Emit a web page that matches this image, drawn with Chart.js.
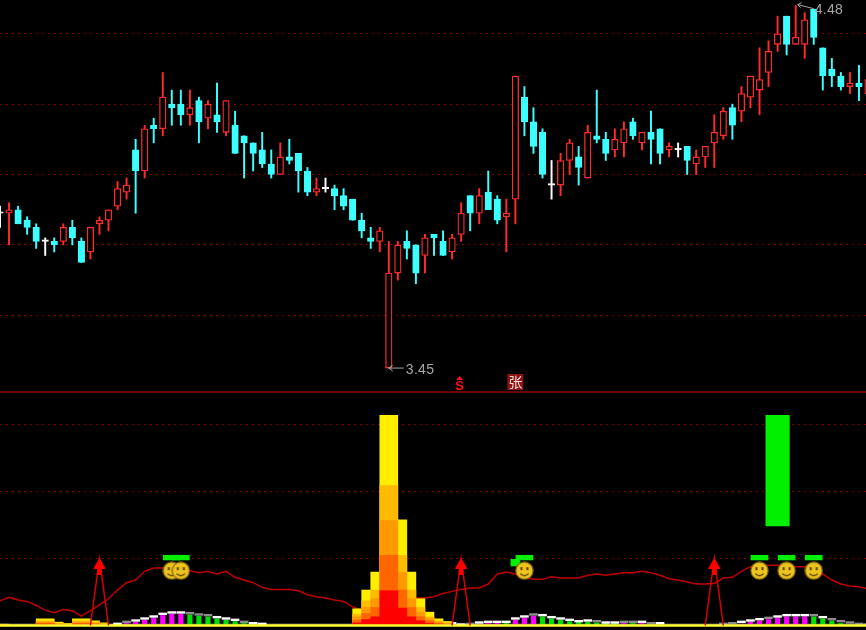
<!DOCTYPE html>
<html>
<head>
<meta charset="utf-8">
<title>K-line</title>
<style>
	html, body { margin: 0; background: #000; overflow: hidden; }
	canvas { display: block; }
</style>
<script src="https://cdn.jsdelivr.net/npm/chart.js@4"></script>
</head>
<body>
<canvas id="chart" width="868" height="630"></canvas>
<script>
const opens = [3.89,3.89,3.90,3.87,3.85,3.81,3.81,3.81,3.85,3.81,3.78,3.86,3.87,3.91,3.95,4.07,4.01,4.14,4.13,4.20,4.20,4.17,4.21,4.16,4.17,4.12,4.14,4.11,4.09,4.07,4.03,4.00,4.05,4.06,4.01,3.95,3.96,3.96,3.94,3.93,3.87,3.82,3.81,3.45,3.72,3.81,3.80,3.77,3.83,3.81,3.78,3.83,3.94,3.89,3.95,3.93,3.88,3.93,4.22,4.15,4.12,3.97,3.97,4.04,4.05,3.99,4.11,4.10,4.07,4.09,4.15,4.09,4.12,4.13,4.07,4.07,4.08,4.03,4.05,4.09,4.11,4.19,4.18,4.22,4.24,4.29,4.37,4.45,4.37,4.37,4.47,4.36,4.30,4.28,4.25,4.26,4.23];
const closes = [3.89,3.90,3.86,3.85,3.81,3.81,3.80,3.85,3.82,3.75,3.85,3.87,3.90,3.96,3.97,4.01,4.13,4.13,4.22,4.19,4.17,4.19,4.15,4.20,4.15,4.21,4.06,4.09,4.06,4.03,4.00,4.05,4.04,4.01,3.95,3.96,3.96,3.94,3.91,3.87,3.84,3.81,3.84,3.72,3.80,3.79,3.72,3.82,3.82,3.77,3.82,3.89,3.89,3.94,3.90,3.87,3.89,4.28,4.15,4.08,4.00,3.97,4.04,4.09,4.02,4.12,4.10,4.06,4.10,4.13,4.11,4.12,4.10,4.06,4.08,4.07,4.04,4.05,4.08,4.12,4.18,4.14,4.23,4.28,4.27,4.35,4.40,4.37,4.39,4.44,4.39,4.28,4.28,4.25,4.26,4.25,4.27];
const highs = [3.91,3.92,3.91,3.88,3.86,3.82,3.82,3.86,3.87,3.82,3.85,3.88,3.90,3.98,3.99,4.10,4.14,4.16,4.29,4.24,4.24,4.24,4.22,4.21,4.26,4.21,4.18,4.11,4.09,4.12,4.07,4.09,4.10,4.06,4.02,3.99,3.99,3.97,3.96,3.93,3.89,3.85,3.85,3.81,3.81,3.84,3.80,3.83,3.83,3.84,3.83,3.92,3.94,3.96,4.01,3.94,3.93,4.28,4.25,4.19,4.13,4.04,4.06,4.10,4.08,4.14,4.24,4.12,4.13,4.15,4.16,4.12,4.18,4.13,4.09,4.09,4.08,4.07,4.08,4.17,4.19,4.20,4.25,4.28,4.36,4.38,4.45,4.45,4.48,4.46,4.47,4.36,4.33,4.29,4.29,4.31,4.28];
const lows = [3.85,3.80,3.86,3.83,3.79,3.77,3.78,3.80,3.80,3.75,3.76,3.83,3.84,3.90,3.93,3.89,3.99,4.09,4.11,4.14,4.14,4.14,4.09,4.13,4.12,4.11,4.06,3.99,4.01,4.02,3.99,4.00,4.03,3.95,3.94,3.94,3.95,3.90,3.90,3.87,3.82,3.79,3.78,3.45,3.70,3.76,3.69,3.72,3.77,3.77,3.76,3.81,3.84,3.86,3.90,3.86,3.78,3.86,4.11,4.06,3.99,3.93,3.94,4.00,3.97,3.99,4.09,4.04,4.05,4.05,4.10,4.07,4.03,4.03,4.05,4.05,4.00,4.00,4.02,4.02,4.10,4.10,4.15,4.19,4.17,4.25,4.35,4.34,4.37,4.33,4.37,4.24,4.25,4.24,4.23,4.21,4.22];
const priceTicks = [3.6, 3.8, 4.0, 4.2, 4.4];

const lineValues = [37,42,38,36,30,23,19,24,22,14,22,31,40,53,64,68,81,86,86,86,83,82,79,81,77,81,72,68,64,57,54,54,54,52,46,43,41,38,36,28,23,18,18,23,28,38,41,41,43,48,51,54,56,56,62,77,80,77,72,69,69,73,71,71,71,75,77,75,77,79,79,81,79,75,70,68,65,62,62,63,71,72,81,88,90,90,90,88,88,88,86,77,68,62,59,58,55];
const lowerTicks = [100, 200, 300];

// heat columns, one array per colour band
const heatDays = [0,5,6,7,9,10,11,40,41,42,43,44,45,46,47,48,49];
const heatYellow = [2,10,5,3,10,7,4,25,53,80,314,158,80,40,20,10,6];
const heatGold = [1.5,7,3,2,7,5,3,17,37,53,209,105,53,27,13,7,4];
const heatOrange = [1,5,2.5,1.5,5,3.5,2,13,27,40,157,79,40,20,10,5,3];
const heatDark = [0.7,3,1.7,1,3,2.3,1.3,8,18,27,105,53,27,13,7,3,2];
const heatRed = [0.4,2,0.8,0.5,2,1.2,0.7,4,9,13,52,26,13,7,3,2,1];

const capDays = [13,14,15,16,17,18,19,20,21,22,23,24,25,26,27,28,29,50,51,52,53,54,55,56,57,58,59,60,61,62,63,64,65,66,67,68,69,70,71,72,73,80,81,82,83,84,85,86,87,88,89,90,91,92,93,94,95,96];
const capValues = [3,6,8,11,14,18,20,20,19,17,16,13,11,9,6,4,3,4,2,3,5,6,6,6,11,14,17,16,13,11,9,7,8,7,5,5,6,6,6,4,4,3,4,6,8,10,12,14,16,16,16,16,13,10,7,5,3,2];
const dimCapDays = [14,21,24,25,27,54,55,56,60,65,67,68,69,70,71,91];
const magentaDays = [14,15,16,17,18,19,20,53,54,55,57,58,59,69,71,82,83,84,85,86,87,88,89];
const magentaValues = [3,5,8,11,15,17,17,2,3,3,8,11,14,3,3,2,5,7,9,11,13,13,13];
const greenDays = [21,22,23,24,25,26,27,28,56,60,61,62,63,64,65,66,67,68,70,72,73,90,91,92,93,94];
const greenValues = [16,14,13,10,8,6,3,1,3,13,10,8,6,5,5,4,3,3,3,1,1,13,10,7,3,1];

const smileDays = [19,20,58,84,87,90];
const smileValues = [82,82,82,82,82,82];
const capBarDays = [19,20,58,84,87,90];
const capBarLow = [98,98,98,98,98,98];
const capBarHigh = [105,105,105,105,105,105];
const notchDays = [57];
const notchLow = [89];
const notchHigh = [99];
const bigGreenDays = [86];
const bigGreenLow = [149];
const bigGreenHigh = [314];

const tentDays = [10,11,12,50,51,52,78,79,80];
const tentValues = [0,100,0,0,100,0,0,100,0];
const arrowDays = [11,51,79];
const arrowHead = [90,90,90];
const arrowStemLow = [76,76,76];
const arrowStemHigh = [88,88,88];

const sMarkDay = 51;
const zhangMarkDay = 57;

const days = opens.map((v, i) => i);

function spread(where, values)
{
	const out = days.map(() => null);
	where.forEach((d, i) => { out[d] = values[i]; });
	return out;
}

function spreadRange(where, low, high)
{
	return spread(where, where.map((d, i) => [low[i], high[i]]));
}

function candleColor(i)
{
	if (closes[i] > opens[i])
		return '#ff2a2a';
	if (closes[i] < opens[i])
		return '#3cffff';
	return '#ffffff';
}

function makeSmiley()
{
	const c = document.createElement('canvas');
	c.width = 19;
	c.height = 19;
	const g = c.getContext('2d');
	g.fillStyle = '#eec420';
	g.strokeStyle = '#8a6c10';
	g.lineWidth = 1.2;
	g.beginPath();
	g.arc(9.5, 9.5, 8.6, 0, Math.PI * 2);
	g.fill();
	g.stroke();
	g.fillStyle = '#5a4500';
	g.fillRect(5.5, 6, 2, 3);
	g.fillRect(11.5, 6, 2, 3);
	g.strokeStyle = '#5a4500';
	g.lineWidth = 1.3;
	g.beginPath();
	g.arc(9.5, 9.5, 5, 0.2 * Math.PI, 0.8 * Math.PI);
	g.stroke();
	return c;
}

const annotate = {
	id: 'annotate',
	afterDatasetsDraw(chart)
	{
		const ctx = chart.ctx;
		const xs = chart.scales.x;
		const ys = chart.scales.y;
		ctx.save();

		ctx.strokeStyle = '#8c0000';
		ctx.lineWidth = 1.5;
		ctx.beginPath();
		ctx.moveTo(0, ys.bottom);
		ctx.lineTo(chart.width, ys.bottom);
		ctx.stroke();

		ctx.font = '14px "Liberation Sans"';
		ctx.letterSpacing = '0.3px';
		ctx.textBaseline = 'middle';
		ctx.fillStyle = '#a6a6a6';
		ctx.strokeStyle = '#a6a6a6';
		ctx.lineWidth = 1;

		const lowest = Math.min(...lows);
		const lx = xs.getPixelForValue(lows.indexOf(lowest));
		const ly = ys.getPixelForValue(lowest);
		ctx.beginPath();
		ctx.moveTo(lx + 15, ly);
		ctx.lineTo(lx, ly);
		ctx.moveTo(lx + 4, ly - 3);
		ctx.lineTo(lx, ly);
		ctx.lineTo(lx + 4, ly + 3);
		ctx.stroke();
		ctx.fillText(lowest.toFixed(2), lx + 17, ly + 2);

		const highest = Math.max(...highs);
		const hx = xs.getPixelForValue(highs.indexOf(highest));
		const hy = ys.getPixelForValue(highest);
		ctx.beginPath();
		ctx.moveTo(hx + 18, hy + 3);
		ctx.lineTo(hx + 2, hy - 1);
		ctx.moveTo(hx + 6, hy - 3);
		ctx.lineTo(hx + 2, hy - 1);
		ctx.lineTo(hx + 5, hy + 2);
		ctx.stroke();
		ctx.fillText(highest.toFixed(2), hx + 19, hy + 5);
		ctx.letterSpacing = '0px';

		// S mark with its hat
		const sx = xs.getPixelForValue(sMarkDay) - 1.5;
		ctx.fillStyle = '#ff1010';
		ctx.beginPath();
		ctx.moveTo(sx, ys.bottom - 16);
		ctx.lineTo(sx + 3.5, ys.bottom - 12);
		ctx.lineTo(sx - 3.5, ys.bottom - 12);
		ctx.fill();
		ctx.font = 'bold 13px "Liberation Sans"';
		ctx.textAlign = 'center';
		ctx.fillText('S', sx, ys.bottom - 6);

		// rise mark
		const zx = xs.getPixelForValue(zhangMarkDay);
		ctx.fillStyle = '#8a1414';
		ctx.fillRect(zx - 8, ys.bottom - 18, 16, 16);
		ctx.fillStyle = '#f4d8d8';
		ctx.font = '14px "Noto Sans CJK SC"';
		ctx.fillText('张', zx, ys.bottom - 10);

		ctx.restore();
	}
};

function upperBar(extra)
{
	return Object.assign({ yAxisID: 'y', grouped: false, borderSkipped: false }, extra);
}

function lowerBar(data, color, width)
{
	return { yAxisID: 'y2', grouped: false, borderSkipped: false, data: data, backgroundColor: color, barThickness: width };
}

function lowerLine(data, color, width)
{
	return { type: 'line', yAxisID: 'y2', data: data, borderColor: color, borderWidth: width, pointRadius: 0 };
}

const datasets = [
	upperBar({
		data: days.map(i => [opens[i], closes[i]]),
		backgroundColor: days.map(i => closes[i] > opens[i] ? '#000000' : candleColor(i)),
		borderColor: days.map(i => candleColor(i)),
		borderWidth: 1.3,
		barThickness: 6.5,
		minBarLength: 1.5
	}),
	upperBar({
		data: days.map(i => [lows[i], highs[i]]),
		backgroundColor: days.map(i => candleColor(i)),
		barThickness: 1.3
	}),

	{
		type: 'line', yAxisID: 'y2', showLine: false,
		data: spread(smileDays, smileValues),
		pointStyle: makeSmiley(), pointRadius: 9
	},
	{
		type: 'line', yAxisID: 'y2', showLine: false,
		data: spread(arrowDays, arrowHead),
		pointStyle: 'triangle', pointRadius: 6.5,
		pointBackgroundColor: '#ff0000', pointBorderColor: '#ff0000'
	},
	lowerBar(spreadRange(arrowDays, arrowStemLow, arrowStemHigh), '#ff0000', 4),
	lowerLine(spread(tentDays, tentValues), '#d80000', 1.5),
	lowerBar(spreadRange(capBarDays, capBarLow, capBarHigh), '#00f000', 17),
	lowerBar(spreadRange(notchDays, notchLow, notchHigh), '#00f000', 9),
	lowerBar(spreadRange(bigGreenDays, bigGreenLow, bigGreenHigh), '#00f000', 23.5),
	lowerLine(days.map(() => 0), '#ffff30', 2.5),
	lowerBar(spread(heatDays, heatRed), '#ff0000', 18),
	lowerBar(spread(heatDays, heatDark), '#ff6600', 18),
	lowerBar(spread(heatDays, heatOrange), '#ff9900', 18),
	lowerBar(spread(heatDays, heatGold), '#ffbb00', 18),
	lowerBar(spread(heatDays, heatYellow), '#ffee00', 18),
	lowerLine(lineValues, '#c00000', 1.5),
	lowerBar(
		spreadRange(capDays, capValues.map(v => v - 1.8), capValues.map(v => v + 0.8)),
		capDays.map(d => dimCapDays.includes(d) ? '#8c8c8c' : '#ffffff'),
		8
	),
	lowerBar(spread(magentaDays, magentaValues), '#ff00ff', 4.5),
	lowerBar(spread(greenDays, greenValues), '#00e000', 4.5),
	lowerLine(days.map(() => 2), '#8a8a8a', 1)
];

function paneAxis(weight, order, min, max, ticks)
{
	return {
		stack: 'panes',
		stackWeight: weight,
		weight: order,
		min: min,
		max: max,
		afterBuildTicks: scale => { scale.ticks = ticks.map(v => ({ value: v })); },
		afterFit: scale => { scale.width = 0; },
		ticks: { display: false },
		border: { display: false, dash: [2, 4] },
		grid: { color: '#7a0000', drawTicks: false, lineWidth: 1 }
	};
}

new Chart(document.getElementById('chart'),
{
	type: 'bar',
	data: { labels: days, datasets: datasets },
	options:
	{
		responsive: false,
		animation: false,
		layout: { padding: 0, autoPadding: false },
		plugins: { legend: { display: false }, tooltip: { enabled: false } },
		scales:
		{
			x: { display: false, offset: false },
			y: paneAxis(392, 1, 3.382, 4.496, priceTicks),
			y2: paneAxis(238, 0, -6.7, 349, lowerTicks)
		}
	},
	plugins: [annotate]
});
</script>
</body>
</html>
